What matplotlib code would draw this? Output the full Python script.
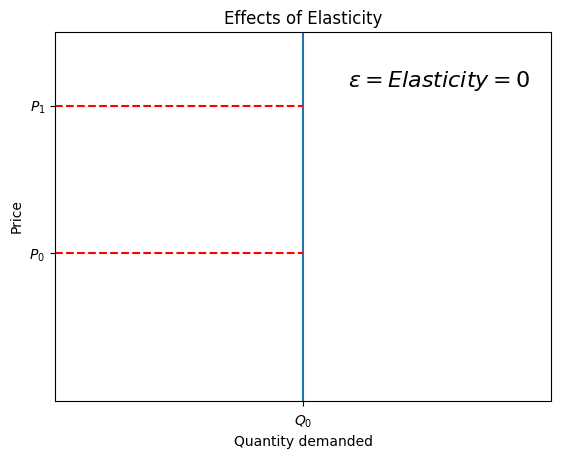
import matplotlib
matplotlib.use("Agg")
import matplotlib.pyplot as plt

# data
q0 = 1.0
prices = [2.0, 4.0]
price_labels = ["$P_0$", "$P_1$"]
q_labels = ["$Q_0$"]

fig = plt.figure(figsize=(5.61, 4.57), dpi=100)
ax = fig.add_axes([55 / 561, 56 / 457, 496 / 561, 369 / 457])

ax.set_xlim(0, 2)
ax.set_ylim(0, 5)

ax.axvline(q0)
for p in prices:
    ax.hlines(p, 0, q0, colors="r", linestyles="--")

ax.set_xticks([q0])
ax.set_xticklabels(q_labels)
ax.tick_params(axis="x", pad=5.5)
ax.set_yticks(prices)
ax.set_yticklabels(price_labels)

ax.text(1.182, 4.25, r"$\epsilon = Elasticity = 0$", fontsize=16)

ax.set_title("Effects of Elasticity")
ax.set_xlabel("Quantity demanded")
ax.set_ylabel("Price")

fig.savefig("out.png", dpi=100)
